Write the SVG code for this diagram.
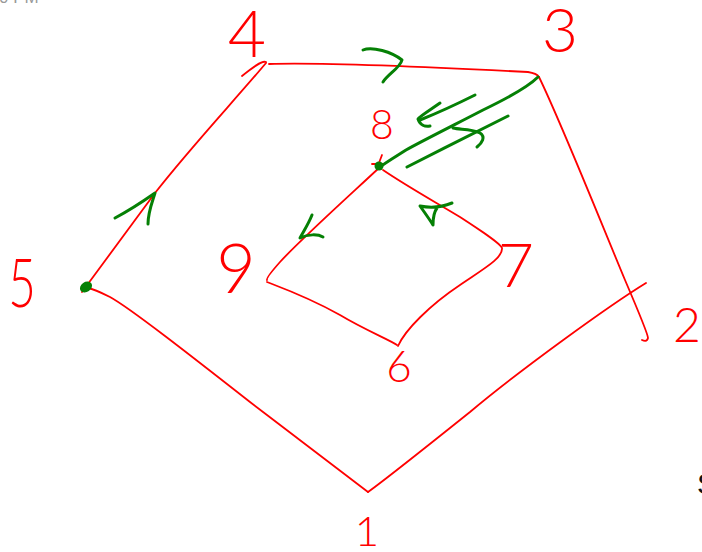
<svg xmlns="http://www.w3.org/2000/svg" width="702" height="552" viewBox="0 0 702 552">
<style>
.r{fill:none;stroke:#ff0000;stroke-width:1.8;stroke-linecap:round;stroke-linejoin:round}
.g{fill:none;stroke:#058005;stroke-width:3;stroke-linecap:round;stroke-linejoin:round}
.lbl{font-family:Lato,"Liberation Sans",sans-serif;font-weight:300;fill:#ff0000;text-anchor:middle}
</style>
<rect width="702" height="552" fill="#ffffff"/>
<text x="-1" y="3" font-family="Liberation Sans, sans-serif" font-size="17" fill="#999999">0 PM</text>
<text x="697" y="494" font-family="Liberation Sans, sans-serif" font-size="30" fill="#111111">S</text>
<g id="connectors">
<path class="r" d="M269,64 C330,62 450,68 528,72 C534,73 537,74 539,77"/>
<path class="r" d="M242,76 C252,68 262,60 266,62"/>
<path class="r" d="M539,77 C560,120 600,220 625,280 C640,315 648,335 648,338 C647,342 644,341 642,340"/>
<path class="r" d="M646,283 C610,305 520,370 470,412 C420,452 385,480 368,492"/>
<path class="r" d="M368,492 C355,482 300,440 250,402 C190,355 130,308 110,297 C100,292 94,289 88,288"/>
<path class="r" d="M82,292 L155,193 C190,148 235,100 266,63"/>
<path class="r" d="M372,164 L383,164 M382,155 L377,168"/>
<path class="r" d="M380,167 C350,195 300,240 280,262 C272,271 266,278 267,280"/>
<path class="r" d="M267,282 C280,287 310,298 340,315 C365,330 390,340 397,345"/>
<path class="r" d="M398,346 C405,330 430,305 460,285 C485,268 503,258 502,248 C500,243 480,230 460,217 C430,199 405,185 383,170"/>
<path class="g" d="M115,218 C130,210 145,200 155,193 C152,203 148,212 148,224"/>
<path class="g" d="M363,50 C372,46 392,52 402,60 C400,68 388,74 383,82"/>
<path class="g" d="M538,77 C530,85 510,97 483,110 C460,122 420,142 406,150 C395,157 385,163 380,167"/>
<path class="g" d="M475,95 C465,100 445,110 420,120"/>
<path class="g" d="M440,103 C430,110 420,116 418,119 C420,125 425,127 430,126"/>
<path class="g" d="M508,116 C490,125 440,150 407,167"/>
<path class="g" d="M453,128 C460,130 470,128 480,133 C486,137 482,143 477,147"/>
<path class="g" d="M312,215 C308,225 303,232 300,238 C308,234 318,234 323,237"/>
<path class="g" d="M452,203 C440,208 430,208 420,206 C425,213 430,220 433,225 C433,218 434,212 437,208"/>
</g>
<g id="node-1"><text class="lbl" x="367" y="546" font-size="42">1</text></g>
<g id="node-2"><text class="lbl" x="687" y="342" font-size="48">2</text></g>
<g id="node-3"><text class="lbl" x="560" y="52" font-size="62">3</text></g>
<g id="node-4"><text class="lbl" x="247" y="57" font-size="66">4</text></g>
<g id="node-5">
<text class="lbl" x="0" y="0" font-size="68" transform="translate(22,307) scale(0.7,1)">5</text>
<ellipse cx="86" cy="287" rx="6.5" ry="5" transform="rotate(-35 86 287)" fill="#058005"/>
</g>
<g id="node-6"><text class="lbl" x="399" y="382" font-size="44">6</text></g>
<g id="node-7"><text class="lbl" x="516" y="287" font-size="62">7</text></g>
<g id="node-8">
<text class="lbl" x="382" y="139" font-size="41">8</text>
<circle cx="379" cy="166" r="4.5" fill="#058005"/>
</g>
<g id="node-9"><text class="lbl" x="236" y="293" font-size="68">9</text></g>
</svg>
